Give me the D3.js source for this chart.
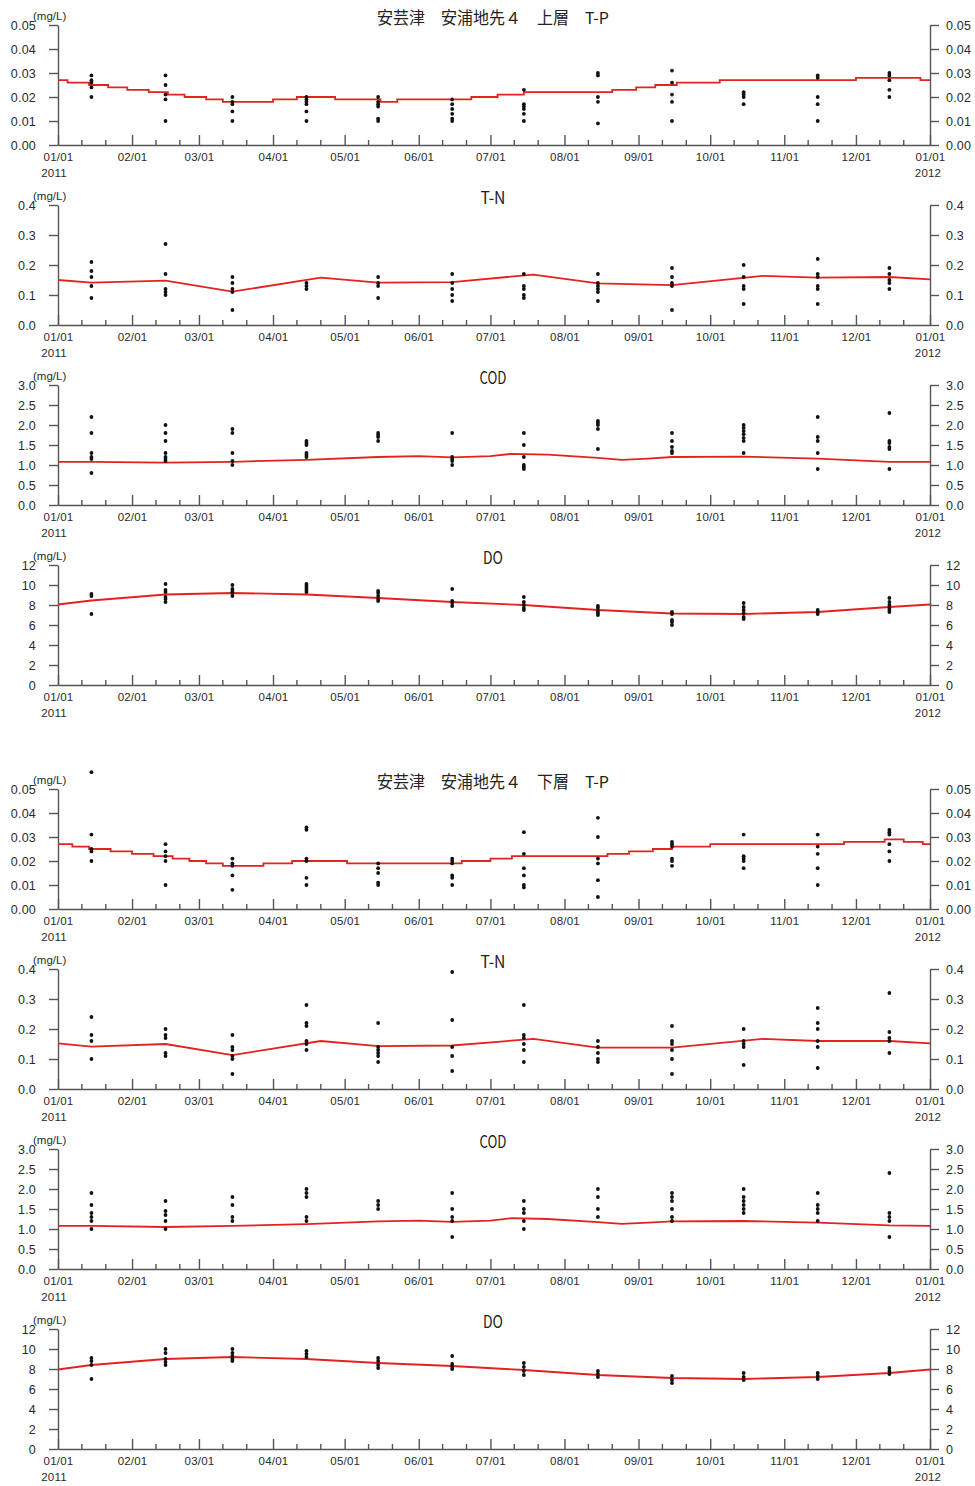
<!DOCTYPE html>
<html>
<head>
<meta charset="utf-8">
<script src="https://cdn.jsdelivr.net/npm/d3@7"></script>
<style>
  body { margin: 0; background: #fff; }
  text { font-family: "Liberation Sans", Arial, sans-serif; fill: #2a2a2a; }
  .title { font-family: "Noto Sans CJK JP", sans-serif; fill: #222; }
  .domain, .tick line { stroke: #555; stroke-width: 1.4; }
</style>
</head>
<body>
<div id="chart"></div>
<script>
// observation days (day of year, mid-month)
var obsDays = [14, 45, 73, 104, 134, 165, 195, 226, 257, 287, 318, 348];

// ---- upper layer (上層) observations, one list per month ----
var upTP = [[0.029, 0.027, 0.026, 0.024, 0.020], [0.029, 0.025, 0.021, 0.019, 0.010], [0.020, 0.018, 0.017, 0.014, 0.010],
  [0.020, 0.019, 0.018, 0.017, 0.014, 0.010], [0.020, 0.018, 0.017, 0.016, 0.011, 0.010], [0.019, 0.017, 0.015, 0.013, 0.011, 0.010],
  [0.023, 0.017, 0.016, 0.015, 0.013, 0.010], [0.030, 0.029, 0.020, 0.018, 0.009], [0.031, 0.026, 0.021, 0.018, 0.010],
  [0.022, 0.021, 0.020, 0.017], [0.029, 0.028, 0.020, 0.017, 0.010], [0.030, 0.029, 0.027, 0.023, 0.020]];
var upTN = [[0.21, 0.18, 0.16, 0.13, 0.09], [0.27, 0.17, 0.12, 0.11, 0.10], [0.16, 0.14, 0.12, 0.11, 0.05],
  [0.14, 0.13, 0.12], [0.16, 0.14, 0.13, 0.09], [0.17, 0.14, 0.12, 0.10, 0.08],
  [0.17, 0.13, 0.12, 0.10, 0.09], [0.17, 0.14, 0.13, 0.12, 0.11, 0.08], [0.19, 0.16, 0.14, 0.13, 0.05],
  [0.20, 0.16, 0.13, 0.12, 0.07], [0.22, 0.17, 0.16, 0.13, 0.12, 0.07], [0.19, 0.17, 0.15, 0.14, 0.12]];
var upCOD = [[2.2, 1.8, 1.3, 1.2, 1.15, 0.8], [2.0, 1.8, 1.6, 1.3, 1.2, 1.15, 1.1], [1.9, 1.8, 1.3, 1.1, 1.0],
  [1.6, 1.55, 1.5, 1.3, 1.25, 1.2], [1.8, 1.75, 1.7, 1.6], [1.8, 1.2, 1.15, 1.1, 1.0],
  [1.8, 1.5, 1.2, 1.0, 0.95, 0.9], [2.1, 2.05, 2.0, 1.9, 1.4], [1.8, 1.6, 1.45, 1.35, 1.3],
  [2.0, 1.93, 1.85, 1.77, 1.68, 1.6, 1.3], [2.2, 1.7, 1.6, 1.3, 0.9], [2.3, 1.6, 1.55, 1.45, 1.4, 0.9]];
var upDO = [[9.1, 8.9, 7.1], [10.1, 9.5, 9.3, 8.8, 8.6, 8.3], [10.0, 9.6, 9.4, 9.2, 8.9],
  [10.1, 9.9, 9.7, 9.5, 9.3], [9.4, 9.2, 8.9, 8.6, 8.4], [9.6, 8.4, 8.2, 7.9],
  [8.8, 8.3, 8.0, 7.7, 7.5], [7.9, 7.7, 7.4, 7.2, 7.0], [7.3, 7.1, 6.5, 6.3, 6.0],
  [8.2, 7.8, 7.5, 7.2, 6.8, 6.6], [7.5, 7.3, 7.1], [8.7, 8.3, 8.0, 7.7, 7.5, 7.3]];

// ---- lower layer (下層) observations ----
var loTP = [[0.057, 0.031, 0.025, 0.024, 0.020], [0.027, 0.024, 0.022, 0.020, 0.010], [0.021, 0.019, 0.018, 0.014, 0.008],
  [0.034, 0.033, 0.021, 0.020, 0.013, 0.010], [0.019, 0.017, 0.015, 0.011, 0.010], [0.021, 0.020, 0.019, 0.014, 0.013, 0.010],
  [0.032, 0.023, 0.017, 0.014, 0.010, 0.009], [0.038, 0.030, 0.021, 0.019, 0.012, 0.005], [0.028, 0.027, 0.026, 0.021, 0.020, 0.018],
  [0.031, 0.022, 0.021, 0.020, 0.017], [0.031, 0.026, 0.023, 0.017, 0.010], [0.033, 0.032, 0.031, 0.027, 0.024, 0.020]];
var loTN = [[0.24, 0.18, 0.16, 0.10], [0.20, 0.18, 0.17, 0.12, 0.11], [0.18, 0.14, 0.13, 0.11, 0.10, 0.05],
  [0.28, 0.22, 0.21, 0.16, 0.15, 0.13], [0.22, 0.14, 0.13, 0.12, 0.11, 0.09], [0.39, 0.23, 0.14, 0.11, 0.06],
  [0.28, 0.18, 0.17, 0.15, 0.13, 0.09], [0.16, 0.14, 0.12, 0.10, 0.09], [0.21, 0.16, 0.15, 0.13, 0.10, 0.05],
  [0.20, 0.16, 0.15, 0.14, 0.08], [0.27, 0.22, 0.20, 0.16, 0.14, 0.07], [0.32, 0.19, 0.17, 0.16, 0.12]];
var loCOD = [[1.9, 1.6, 1.4, 1.3, 1.2, 1.0], [1.7, 1.45, 1.35, 1.2, 1.0], [1.8, 1.6, 1.3, 1.2],
  [2.0, 1.9, 1.8, 1.3, 1.2], [1.7, 1.6, 1.5], [1.9, 1.5, 1.3, 1.2, 0.8],
  [1.7, 1.5, 1.4, 1.2, 1.0], [2.0, 1.8, 1.5, 1.3], [1.9, 1.8, 1.7, 1.5, 1.3, 1.2],
  [2.0, 1.8, 1.7, 1.6, 1.5, 1.4], [1.9, 1.6, 1.5, 1.4, 1.2], [2.4, 1.4, 1.3, 1.2, 0.8]];
var loDO = [[9.1, 8.8, 8.4, 7.0], [10.0, 9.6, 9.0, 8.7, 8.4], [10.0, 9.6, 9.3, 9.0, 8.8],
  [9.8, 9.5, 9.2], [9.1, 8.8, 8.4, 8.1], [9.3, 8.5, 8.2, 8.0],
  [8.6, 8.2, 7.8, 7.4], [7.8, 7.5, 7.2], [7.3, 6.9, 6.6],
  [7.6, 7.2, 6.9], [7.6, 7.3, 7.0], [8.1, 7.8, 7.5]];

// ---- red reference lines (day of year -> value) ----
// T-P lines are stepped
var upTPLineDays = [0, 4, 13, 21, 29, 38, 46, 53, 62, 69, 90, 100, 116, 135, 142, 173, 184, 195, 232, 242, 250, 259, 277, 334, 361, 365];
var upTPLineVals = [0.027, 0.026, 0.025, 0.024, 0.023, 0.022, 0.021, 0.020, 0.019, 0.018, 0.019, 0.020, 0.019, 0.018, 0.019, 0.020, 0.021, 0.022, 0.023, 0.024, 0.025, 0.026, 0.027, 0.028, 0.027, 0.027];
var loTPLineDays = [0, 6, 13, 22, 31, 40, 48, 55, 62, 69, 86, 98, 121, 169, 181, 190, 230, 239, 249, 257, 273, 329, 346, 354, 362, 365];
var loTPLineVals = [0.027, 0.026, 0.025, 0.024, 0.023, 0.022, 0.021, 0.020, 0.019, 0.018, 0.019, 0.020, 0.019, 0.020, 0.021, 0.022, 0.023, 0.024, 0.025, 0.026, 0.027, 0.028, 0.029, 0.028, 0.027, 0.027];

var upTNLineDays = [0, 14, 45, 73, 110, 134, 165, 199, 226, 257, 295, 318, 348, 365];
var upTNLineVals = [0.150, 0.141, 0.148, 0.111, 0.158, 0.141, 0.143, 0.168, 0.139, 0.133, 0.164, 0.158, 0.160, 0.152];
var loTNLineVals = [0.152, 0.141, 0.150, 0.113, 0.160, 0.143, 0.145, 0.167, 0.138, 0.138, 0.167, 0.160, 0.160, 0.152];

var codLineDays = [0, 14, 45, 73, 104, 134, 151, 165, 181, 190, 205, 226, 236, 247, 257, 287, 318, 348, 365];
var upCODLineVals = [1.08, 1.08, 1.06, 1.08, 1.13, 1.20, 1.22, 1.19, 1.22, 1.28, 1.26, 1.18, 1.13, 1.16, 1.20, 1.21, 1.16, 1.08, 1.08];
var loCODLineVals = [1.08, 1.08, 1.05, 1.08, 1.12, 1.19, 1.21, 1.18, 1.21, 1.27, 1.25, 1.17, 1.13, 1.16, 1.19, 1.20, 1.16, 1.09, 1.08];

var doLineDays = [0, 14, 45, 73, 104, 134, 165, 195, 226, 257, 287, 318, 348, 365];
var upDOLineVals = [8.05, 8.45, 9.05, 9.2, 9.05, 8.7, 8.3, 8.0, 7.5, 7.15, 7.1, 7.3, 7.8, 8.05];
var loDOLineVals = [7.95, 8.4, 9.0, 9.2, 9.0, 8.6, 8.3, 7.9, 7.4, 7.1, 7.0, 7.2, 7.6, 7.95];

// axis settings per item
var yMax = { tp: 0.05, tn: 0.4, cod: 3.0, do: 12 };
var yTicks = {
  tp: [0, 0.01, 0.02, 0.03, 0.04, 0.05],
  tn: [0, 0.1, 0.2, 0.3, 0.4],
  cod: [0, 0.5, 1.0, 1.5, 2.0, 2.5, 3.0],
  do: [0, 2, 4, 6, 8, 10, 12]
};
var yFormat = { tp: ".2f", tn: ".1f", cod: ".1f", do: "d" };

// create svg element
var svgWidth = 975;
var svgHeight = 1486;
var plotLeft = 58;
var plotRight = 930;
var plotH = 120;

var svg = d3.select("#chart")
  .append("svg")
  .attr("width", svgWidth)
  .attr("height", svgHeight);

var start = new Date(2011, 0, 1);
var end = new Date(2012, 0, 1);
var day = d => d3.timeDay.offset(start, d);

var x = d3.scaleTime()
  .domain([start, end])
  .range([plotLeft, plotRight]);

var monthTicks = d3.timeMonth.range(start, d3.timeDay.offset(end, 1));
var minorTicks = [];
d3.range(12).forEach(function(m) {
  minorTicks.push(new Date(2011, m, 11));
  minorTicks.push(new Date(2011, m, 21));
});

var panels = [
  { top: 25, key: "tp", obs: upTP, days: upTPLineDays, vals: upTPLineVals, step: true, title: "安芸津\u3000安浦地先４\u3000上層\u3000T-P", tw: 232 },
  { top: 205, key: "tn", obs: upTN, days: upTNLineDays, vals: upTNLineVals, title: "T-N", tw: 25 },
  { top: 385, key: "cod", obs: upCOD, days: codLineDays, vals: upCODLineVals, title: "COD", tw: 27 },
  { top: 565, key: "do", obs: upDO, days: doLineDays, vals: upDOLineVals, title: "DO", tw: 20 },
  { top: 789, key: "tp", obs: loTP, days: loTPLineDays, vals: loTPLineVals, step: true, title: "安芸津\u3000安浦地先４\u3000下層\u3000T-P", tw: 232 },
  { top: 969, key: "tn", obs: loTN, days: upTNLineDays, vals: loTNLineVals, title: "T-N", tw: 25 },
  { top: 1149, key: "cod", obs: loCOD, days: codLineDays, vals: loCODLineVals, title: "COD", tw: 27 },
  { top: 1329, key: "do", obs: loDO, days: doLineDays, vals: loDOLineVals, title: "DO", tw: 20 }
];

panels.forEach(drawPanel);

function drawPanel(p) {
  var base = p.top + plotH;
  var y = d3.scaleLinear()
    .domain([0, yMax[p.key]])
    .range([base, p.top]);

  // x axis with ticks pointing up
  var xAxis = svg.append("g")
    .attr("transform", `translate(0, ${base})`)
    .call(d3.axisBottom(x)
      .tickValues(monthTicks)
      .tickSize(-10)
      .tickSizeOuter(0)
      .tickPadding(8)
      .tickFormat(d3.timeFormat("%m/%d")));
  xAxis.selectAll("text")
    .style("font-size", "11.5px")
    .style("letter-spacing", "0.2px")
    .attr("fill", "#2a2a2a");

  xAxis.selectAll(".minor")
    .data(minorTicks)
    .enter()
    .append("line")
    .attr("class", "minor")
    .attr("x1", d => x(d))
    .attr("x2", d => x(d))
    .attr("y1", 0)
    .attr("y2", -5)
    .attr("stroke", "#555")
    .attr("stroke-width", 1.4);

  // year labels
  svg.append("text")
    .attr("x", x(start) - 4)
    .attr("y", base + 32)
    .attr("text-anchor", "middle")
    .style("font-size", "11.5px")
    .style("letter-spacing", "0.2px")
    .text("2011");
  svg.append("text")
    .attr("x", x(end) - 2)
    .attr("y", base + 32)
    .attr("text-anchor", "middle")
    .style("font-size", "11.5px")
    .style("letter-spacing", "0.2px")
    .text("2012");

  // left and right y axes
  var fmt = d3.format(yFormat[p.key]);
  var yLeft = svg.append("g")
    .attr("transform", `translate(${plotLeft}, 0)`)
    .call(d3.axisLeft(y).tickValues(yTicks[p.key]).tickSize(9).tickSizeOuter(0).tickPadding(13).tickFormat(fmt));
  var yRight = svg.append("g")
    .attr("transform", `translate(${plotRight}, 0)`)
    .call(d3.axisRight(y).tickValues(yTicks[p.key]).tickSize(9).tickSizeOuter(0).tickPadding(7).tickFormat(fmt));
  yLeft.selectAll("text").style("font-size", "12.5px").style("letter-spacing", "0.2px").attr("fill", "#2a2a2a");
  yRight.selectAll("text").style("font-size", "12.5px").style("letter-spacing", "0.2px").attr("fill", "#2a2a2a");

  // unit label
  svg.append("text")
    .attr("x", 33)
    .attr("y", p.top - 5)
    .style("font-size", "11.5px")
    .text("(mg/L)");

  // title
  svg.append("text")
    .attr("class", "title")
    .attr("x", 493)
    .attr("y", p.top - 1)
    .attr("text-anchor", "middle")
    .attr("textLength", p.tw)
    .attr("lengthAdjust", "spacingAndGlyphs")
    .style("font-size", p.step ? "16.5px" : "17px")
    .text(p.title);

  // red reference line
  var lineData = p.days.map((d, i) => ({ date: day(d), v: p.vals[i] }));
  var line = d3.line()
    .x(d => x(d.date))
    .y(d => y(d.v))
    .curve(p.step ? d3.curveStepAfter : d3.curveLinear);
  svg.append("path")
    .datum(lineData)
    .attr("d", line)
    .attr("fill", "none")
    .attr("stroke", "#e4221f")
    .attr("stroke-width", 1.8);

  // observation dots
  var pts = [];
  p.obs.forEach(function(vals, m) {
    vals.forEach(v => pts.push({ date: day(obsDays[m]), v: v }));
  });
  svg.append("g")
    .selectAll("circle")
    .data(pts)
    .enter()
    .append("circle")
    .attr("cx", d => x(d.date))
    .attr("cy", d => y(d.v))
    .attr("r", 1.9)
    .attr("fill", "#111");
}
</script>
</body>
</html>
